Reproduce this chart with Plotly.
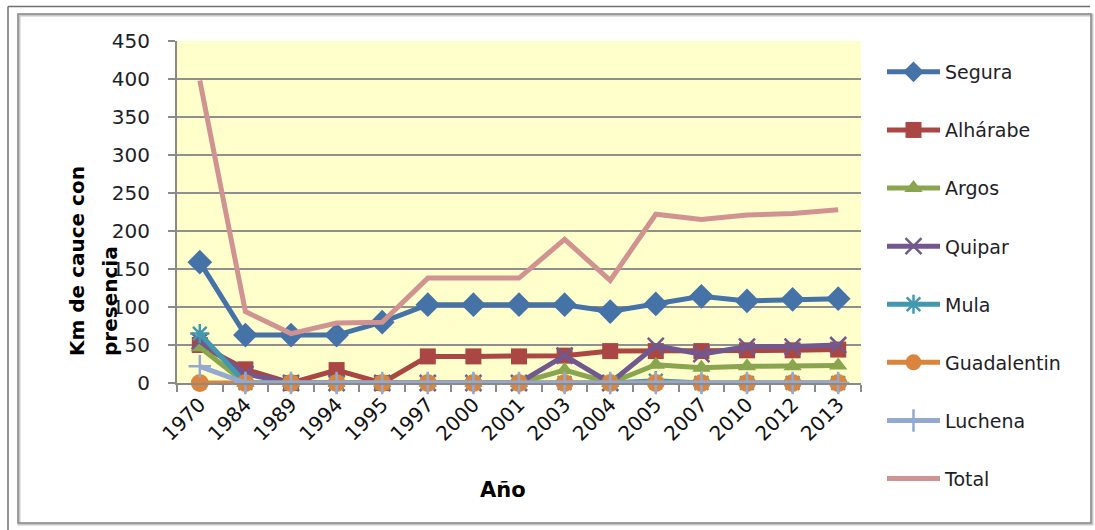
import plotly.graph_objects as go

# Kilómetros de cauce con presencia, por río y año de muestreo
years = ['1970', '1984', '1989', '1994', '1995', '1997', '2000', '2001',
         '2003', '2004', '2005', '2007', '2010', '2012', '2013']
segura = [159, 63, 63, 63, 80, 103, 103, 103, 103, 94, 104, 114, 108, 110, 111]
alharabe = [50, 18, 0, 17, 0, 35, 35, 35, 36, 42, 42, 42, 43, 43, 44]
argos = [47, 0, 0, 0, 0, 0, 0, 0, 17, 0, 24, 20, 22, 22, 23]
quipar = [55, 12, 0, 0, 0, 0, 0, 0, 36, 0, 49, 38, 48, 48, 50]
mula = [65, 0, 0, 0, 0, 0, 0, 0, 0, 0, 3, 0, 0, 0, 0]
guadalentin = [0, 0, 0, 0, 0, 0, 0, 0, 0, 0, 0, 0, 0, 0, 0]
luchena = [22, 0, 0, 0, 0, 0, 0, 0, 0, 0, 0, 0, 0, 0, 0]
total = [398, 94, 65, 79, 80, 138, 138, 138, 189, 135, 222, 215, 221, 223, 228]

W, H = 1095, 530
PL, PR, PT, PB = 177, 861, 41, 383   # plot area in pixels


def px(x):
    return (x - PL) / (PR - PL)


def py(y):
    return (PB - y) / (PB - PT)


series = [
    ('Segura', segura, '#4572A7', dict(symbol='diamond', size=19)),
    ('Alhárabe', alharabe, '#AA4643', dict(symbol='square', size=16)),
    ('Argos', argos, '#89A54E', dict(symbol='triangle-up', size=16)),
    ('Quipar', quipar, '#71588F', dict(symbol='x-thin-open', size=16,
                                        line=dict(width=2.5, color='#71588F'))),
    ('Mula', mula, '#4198AF', dict(symbol='asterisk-open', size=16,
                                    line=dict(width=2.5, color='#4198AF'))),
    ('Guadalentin', guadalentin, '#DB843D', dict(symbol='circle', size=18)),
    ('Luchena', luchena, '#93A9CF', dict(symbol='cross-thin-open', size=16,
                                          line=dict(width=2.5, color='#93A9CF'))),
]

fig = go.Figure()
for name, vals, col, mk in series:
    mk = dict(mk)
    mk['color'] = col
    fig.add_trace(go.Scatter(
        x=years, y=vals, name=name, mode='lines+markers',
        line=dict(color=col, width=5), marker=mk,
        cliponaxis=False, legendgroup=name))

fig.add_trace(go.Scatter(
    x=years, y=total, name='Total', mode='lines',
    line=dict(color='#D19392', width=5), cliponaxis=False,
    legendgroup='Total'))

shapes = [
    # marco exterior
    dict(type='line', xref='paper', yref='paper',
         x0=px(8), x1=px(1090), y0=py(6.5), y1=py(6.5),
         line=dict(color='#707070', width=1.5)),
    dict(type='line', xref='paper', yref='paper',
         x0=px(8), x1=px(8), y0=py(6.5), y1=py(531),
         line=dict(color='#707070', width=1.5)),
    # marco del gráfico
    dict(type='rect', xref='paper', yref='paper',
         x0=px(19), x1=px(1092), y0=py(15), y1=py(524),
         line=dict(color='#c8c8c8', width=3)),
    dict(type='rect', xref='paper', yref='paper',
         x0=px(18), x1=px(1091), y0=py(14), y1=py(523),
         line=dict(color='#8a8a8a', width=1.5)),
]

title_font = dict(family='DejaVu Sans', size=20, color='#000000')
annotations = [
    dict(text='<b>Km de cauce con</b>', xref='paper', yref='paper',
         x=px(77), y=py(358), xanchor='center', yanchor='bottom',
         textangle=-90, showarrow=False, font=title_font),
    dict(text='<b>presencia</b>', xref='paper', yref='paper',
         x=px(110), y=py(358), xanchor='center', yanchor='bottom',
         textangle=-90, showarrow=False, font=title_font),
    dict(text='<b>Año</b>', xref='paper', yref='paper',
         x=px(503), y=py(490), xanchor='center', yanchor='middle',
         showarrow=False, font=dict(family='DejaVu Sans', size=21, color='#000000')),
]

fig.update_layout(
    width=W, height=H,
    margin=dict(l=PL, r=W - PR, t=PT, b=H - PB, pad=0),
    paper_bgcolor='#ffffff', plot_bgcolor='#FFFFCC',
    showlegend=True,
    legend=dict(x=px(882), y=py(53), xanchor='left', yanchor='top',
                traceorder='grouped', tracegroupgap=30.4, itemwidth=53,
                maxheight=520,
                font=dict(family='DejaVu Sans', size=19, color='#1e1e28'),
                bgcolor='rgba(0,0,0,0)'),
    shapes=shapes, annotations=annotations,
    xaxis=dict(type='category', range=[-0.5, len(years) - 0.5],
               showgrid=False, tickson='boundaries',
               ticks='outside', ticklen=7, tickwidth=2, tickcolor='#8a8a8a',
               showline=True, linecolor='#8a8a8a', linewidth=2,
               tickangle=-45, zeroline=False,
               tickfont=dict(family='DejaVu Sans', size=20, color='#111111')),
    yaxis=dict(range=[0, 450], dtick=50, showgrid=True,
               gridcolor='#8f8f8f', gridwidth=2,
               ticks='outside', ticklen=7, tickwidth=2, tickcolor='#8a8a8a',
               showline=True, linecolor='#8a8a8a', linewidth=2,
               zeroline=False, ticklabelstandoff=14,
               tickfont=dict(family='DejaVu Sans', size=20, color='#1e1e28')),
)

fig.write_html('out.html')
